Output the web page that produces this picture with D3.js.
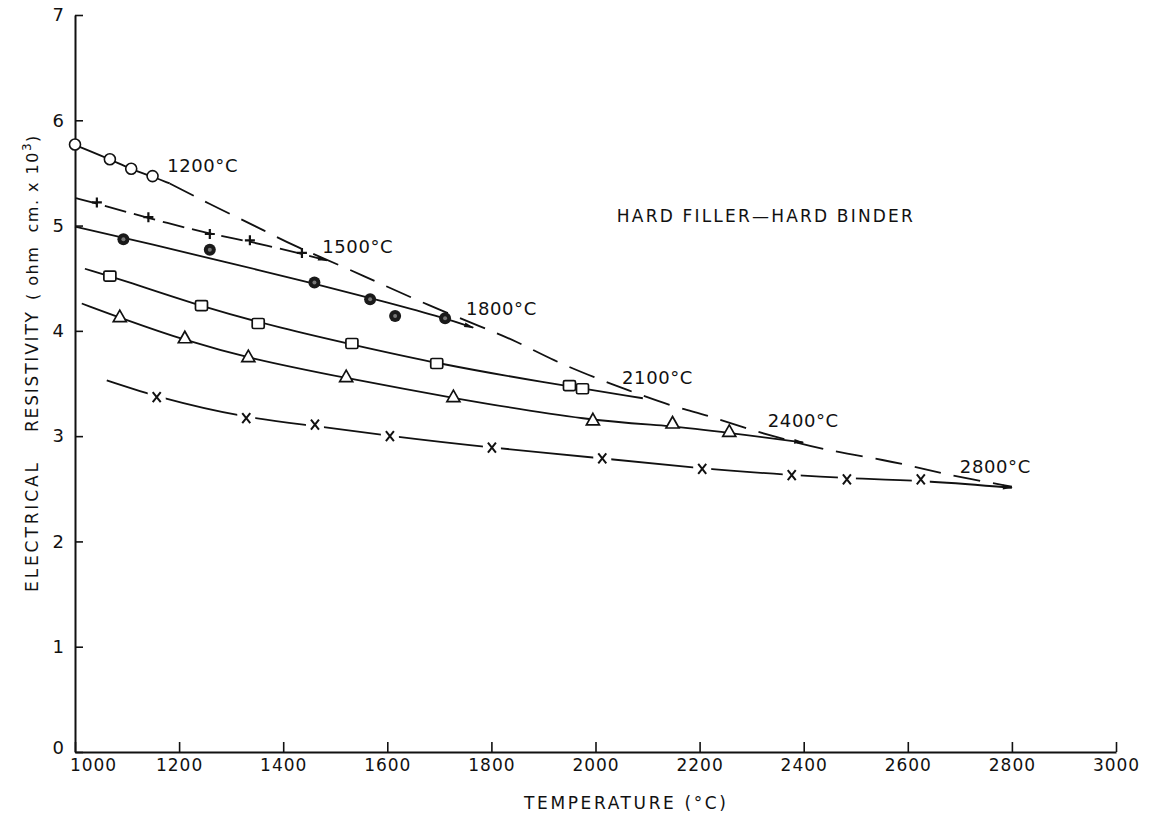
<!DOCTYPE html>
<html lang="en">
<head>
    <meta charset="UTF-8">
    <title>Hard filler - hard binder resistivity</title>
    <script src="https://d3js.org/d3.v7.min.js"></script>
    <style>
        body {margin: 0; background: white;}
        svg text {font-family: "DejaVu Sans", sans-serif; fill: #111;}
    </style>
</head>
<body>
<script>
    const width = 1152;
    const height = 813;

    // ---- data (temperature °C, resistivity ohm cm x 10^3) ----
    const xTicks = [1000, 1200, 1400, 1600, 1800, 2000, 2200, 2400, 2600, 2800, 3000];
    const yTicks = [0, 1, 2, 3, 4, 5, 6, 7];

    // measured points
    const s1200T = [1000, 1067, 1108, 1149];
    const s1200R = [5.77, 5.63, 5.54, 5.47];
    const s1500T = [1042, 1141, 1259, 1336, 1436];
    const s1500R = [5.22, 5.08, 4.92, 4.86, 4.74];
    const s1800T = [1093, 1259, 1460, 1567, 1615, 1711];
    const s1800R = [4.87, 4.77, 4.46, 4.30, 4.14, 4.12];
    const s2100T = [1067, 1243, 1352, 1532, 1695, 1950, 1975];
    const s2100R = [4.52, 4.24, 4.07, 3.88, 3.69, 3.48, 3.45];
    const s2400T = [1086, 1211, 1333, 1521, 1727, 1995, 2148, 2257];
    const s2400R = [4.13, 3.93, 3.75, 3.56, 3.37, 3.15, 3.12, 3.04];
    const s2800T = [1157, 1329, 1461, 1605, 1801, 2013, 2205, 2377, 2483, 2625];
    const s2800R = [3.37, 3.17, 3.11, 3.00, 2.89, 2.79, 2.69, 2.63, 2.59, 2.59];

    // drawn (fitted) curves
    const c1200T = [1000, 1067, 1108, 1149, 1182];
    const c1200R = [5.765, 5.63, 5.535, 5.465, 5.40];
    const c1500T = [1002, 1042, 1141, 1259, 1336, 1436, 1484];
    const c1500R = [5.26, 5.21, 5.07, 4.92, 4.85, 4.73, 4.67];
    const c1800T = [1000, 1150, 1300, 1460, 1600, 1711, 1765];
    const c1800R = [4.99, 4.82, 4.64, 4.45, 4.27, 4.12, 4.03];
    const c2100T = [1019, 1100, 1243, 1400, 1532, 1695, 1900, 2091];
    const c2100R = [4.59, 4.47, 4.23, 4.02, 3.87, 3.69, 3.51, 3.36];
    const c2400T = [1013, 1100, 1211, 1333, 1521, 1727, 1995, 2148, 2257, 2399];
    const c2400R = [4.26, 4.10, 3.91, 3.74, 3.55, 3.36, 3.14, 3.10, 3.03, 2.94];
    const c2800T = [1061, 1157, 1329, 1461, 1605, 1801, 2013, 2205, 2377, 2483, 2625, 2800];
    const c2800R = [3.53, 3.37, 3.17, 3.10, 3.00, 2.89, 2.79, 2.69, 2.63, 2.60, 2.58, 2.51];

    // dashed envelope through the curve ends
    const envT = [1182, 1272, 1349, 1419, 1515, 1586, 1676, 1784, 1849, 1918, 2002, 2060, 2149, 2214, 2291, 2341, 2437, 2560, 2630, 2700, 2800];
    const envR = [5.40, 5.17, 4.99, 4.81, 4.61, 4.45, 4.25, 4.03, 3.90, 3.72, 3.55, 3.44, 3.28, 3.20, 3.07, 3.00, 2.87, 2.77, 2.69, 2.61, 2.52];

    // curve labels (anchored in data units)
    const labelText = ["1200°C", "1500°C", "1800°C", "2100°C", "2400°C", "2800°C"];
    const labelT = [1177, 1475, 1751, 2051, 2331, 2700];
    const labelR = [5.51, 4.74, 4.15, 3.50, 3.09, 2.65];

    const title = "HARD FILLER\u2014HARD BINDER";
    const xTitle = "TEMPERATURE (°C)";

    const zip = (t, r) => t.map((d, i) => [d, r[i]]);

    const svg = d3.select("body").append("svg")
            .attr("width", width).attr("height", height);

    const x = d3.scaleLinear().domain([1000, 3000]).range([75, 1116]);
    const y = d3.scaleLinear().domain([0, 7]).range([752, 15]);

    // arrow head used at the end of some curves
    svg.append("defs").append("marker")
            .attr("id", "arrow")
            .attr("markerUnits", "userSpaceOnUse")
            .attr("viewBox", "0 -3 10 6")
            .attr("refX", 9).attr("refY", 0)
            .attr("markerWidth", 12).attr("markerHeight", 6)
            .attr("orient", "auto")
            .append("path")
            .attr("d", "M0,-2.4L10,0L0,2.4Z")
            .style("fill", "#111");

    drawAxes();
    drawCurves();
    drawMarkers();
    drawLabels();

    function drawAxes() {
        const xAxis = svg.append("g")
                .attr("transform", `translate(0,${y(0)})`)
                .call(d3.axisBottom(x).tickValues(xTicks).tickFormat(d3.format("d"))
                        .tickSize(-10).tickSizeOuter(0).tickPadding(7));
        xAxis.select(".domain").style("stroke", "#111").style("stroke-width", 2);
        xAxis.selectAll(".tick line").style("stroke", "#111").style("stroke-width", 1.6);
        xAxis.selectAll(".tick text")
                .style("font-size", "17px").style("letter-spacing", "1px")
                .attr("dx", d => d === 1000 ? 18 : 0);

        const yAxis = svg.append("g")
                .attr("transform", `translate(${x(1000)},0)`)
                .call(d3.axisLeft(y).tickValues(yTicks).tickFormat(d3.format("d"))
                        .tickSize(-8).tickSizeOuter(0).tickPadding(11));
        yAxis.select(".domain").style("stroke", "#111").style("stroke-width", 2);
        yAxis.selectAll(".tick line").style("stroke", "#111").style("stroke-width", 1.6);
        yAxis.selectAll(".tick text").style("font-size", "18px")
                .attr("dy", d => d === 0 ? "0.1em" : "0.32em");

        svg.append("text")
                .attr("x", 524).attr("y", 809)
                .attr("textLength", 202).attr("lengthAdjust", "spacing")
                .style("font-size", "17px")
                .text(xTitle);

        // rotated y title, three pieces as on the original lettering
        const yl = svg.append("g").attr("transform", "rotate(-90)");
        yl.append("text")
                .attr("x", -592).attr("y", 38)
                .attr("textLength", 129).attr("lengthAdjust", "spacing")
                .style("font-size", "17px")
                .text("ELECTRICAL");
        yl.append("text")
                .attr("x", -432).attr("y", 38)
                .attr("textLength", 120).attr("lengthAdjust", "spacing")
                .style("font-size", "17px")
                .text("RESISTIVITY");
        const unit = yl.append("text")
                .attr("x", -300).attr("y", 38)
                .style("font-size", "16px").style("white-space", "pre")
                .style("letter-spacing", "1.5px");
        unit.append("tspan").text("( ohm  cm. x 10");
        unit.append("tspan").attr("dy", -7).style("font-size", "12px").text("3");
        unit.append("tspan").attr("dy", 7).text(")");
    }

    function drawCurves() {
        const line = d3.line()
                .x(d => x(d[0])).y(d => y(d[1]))
                .curve(d3.curveBasis);

        const curves = [
            {pts: zip(c1200T, c1200R), dash: null, arrow: false},
            {pts: zip(c1500T, c1500R), dash: "22 8", arrow: true},
            {pts: zip(c1800T, c1800R), dash: null, arrow: true},
            {pts: zip(c2100T, c2100R), dash: null, arrow: false},
            {pts: zip(c2400T, c2400R), dash: null, arrow: true},
            {pts: zip(c2800T, c2800R), dash: null, arrow: true}
        ];

        svg.selectAll("path.curve")
                .data(curves)
                .enter()
                .append("path")
                .attr("class", "curve")
                .attr("d", d => line(d.pts))
                .attr("marker-end", d => d.arrow ? "url(#arrow)" : null)
                .style("fill", "none")
                .style("stroke", "#111")
                .style("stroke-width", 1.8)
                .style("stroke-dasharray", d => d.dash);

        svg.append("path").attr("class", "envelope")
                .datum(zip(envT, envR))
                .attr("d", line)
                .style("fill", "none")
                .style("stroke", "#111")
                .style("stroke-width", 1.8)
                .style("stroke-dasharray", "27 13");
    }

    function drawMarkers() {
        // open circles - 1200
        svg.selectAll("circle.c1200")
                .data(zip(s1200T, s1200R)).enter()
                .append("circle").attr("class", "c1200")
                .attr("cx", d => x(d[0])).attr("cy", d => y(d[1]))
                .attr("r", 5.5)
                .style("fill", "white").style("stroke", "#111").style("stroke-width", 1.6);

        // plus - 1500
        svg.selectAll("path.c1500")
                .data(zip(s1500T, s1500R)).enter()
                .append("path").attr("class", "c1500")
                .attr("transform", d => `translate(${x(d[0])},${y(d[1])})`)
                .attr("d", "M-5,0H5M0,-5V5")
                .style("stroke", "#111").style("stroke-width", 2.2);

        // filled circles - 1800
        const g18 = svg.selectAll("g.c1800")
                .data(zip(s1800T, s1800R)).enter()
                .append("g").attr("class", "c1800")
                .attr("transform", d => `translate(${x(d[0])},${y(d[1])})`);
        g18.append("circle").attr("r", 6).style("fill", "#1a1a1a");
        g18.append("circle").attr("r", 2).style("fill", "#777");

        // squares - 2100
        svg.selectAll("rect.c2100")
                .data(zip(s2100T, s2100R)).enter()
                .append("rect").attr("class", "c2100")
                .attr("x", d => x(d[0]) - 6).attr("y", d => y(d[1]) - 5)
                .attr("width", 12).attr("height", 10).attr("rx", 1.5)
                .style("fill", "white").style("stroke", "#111").style("stroke-width", 1.7);

        // triangles - 2400
        svg.selectAll("path.c2400")
                .data(zip(s2400T, s2400R)).enter()
                .append("path").attr("class", "c2400")
                .attr("transform", d => `translate(${x(d[0])},${y(d[1])})`)
                .attr("d", "M0,-7L6.5,4.5H-6.5Z")
                .style("fill", "white").style("stroke", "#111").style("stroke-width", 1.7);

        // x - 2800, line is broken around each mark
        const g28 = svg.selectAll("g.c2800")
                .data(zip(s2800T, s2800R)).enter()
                .append("g").attr("class", "c2800")
                .attr("transform", d => `translate(${x(d[0])},${y(d[1])})`);
        g28.append("rect").attr("x", -9).attr("y", -7).attr("width", 18).attr("height", 14)
                .style("fill", "white");
        g28.append("path").attr("d", "M-4,-5L4,5M4,-5L-4,5")
                .style("stroke", "#111").style("stroke-width", 2);
    }

    function drawLabels() {
        svg.selectAll("text.curve-label")
                .data(labelText).enter()
                .append("text").attr("class", "curve-label")
                .attr("x", (d, i) => x(labelT[i]))
                .attr("y", (d, i) => y(labelR[i]))
                .style("font-size", "18px")
                .style("letter-spacing", "0.6px")
                .text(d => d);

        svg.append("text")
                .attr("x", x(2041)).attr("y", y(5.03))
                .attr("textLength", 296).attr("lengthAdjust", "spacing")
                .style("font-size", "17px")
                .text(title);
    }
</script>
</body>
</html>
